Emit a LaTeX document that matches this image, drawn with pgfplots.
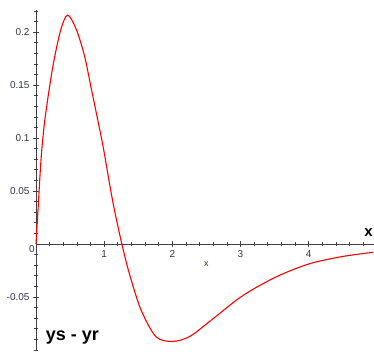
\documentclass[border=0pt]{standalone}
\usepackage{fontspec}
\setmainfont{Liberation Sans}
\usepackage{pgfplots}
\pgfplotsset{compat=1.18}
\definecolor{axc}{HTML}{404040}
\definecolor{lab}{HTML}{33334D}
\definecolor{olive}{HTML}{333300}
\begin{document}
\begin{tikzpicture}
\useasboundingbox (-36pt,0pt) rectangle (338pt,351pt);
\begin{axis}[
 at={(0pt,0pt)}, anchor=south west,
 scale only axis, width=338pt, height=341pt,
 xmin=0, xmax=4.96, ymin=-0.101, ymax=0.2208,
 axis lines=middle, axis line style={axc, line width=0.6pt, -},
 xtick={1,2,3,4}, xticklabels={1,2,3,4},
 ytick={-0.05,0.05,0.1,0.15,0.2},
 yticklabels={-0.05,0.05,0.1,0.15,0.2},
 minor xtick={0.2,0.4,0.6,0.8,1.2,1.4,1.6,1.8,2.2,2.4,2.6,2.8,3.2,3.4,3.6,3.8,4.2,4.4,4.6,4.8},
 minor ytick={-0.1,-0.09,-0.08,-0.07,-0.06,-0.04,-0.03,-0.02,-0.01,0.01,0.02,0.03,0.04,0.06,0.07,0.08,0.09,0.11,0.12,0.13,0.14,0.16,0.17,0.18,0.19,0.21,0.22},
 tick align=center, major tick length=6pt, minor tick length=4pt,
 tick style={axc, line width=0.6pt},
 ticklabel style={font=\fontsize{10}{12}\selectfont, text=lab},
 /pgf/number format/assume math mode=true,
 clip=false,
]
\addplot[red, line width=1.1pt, smooth, tension=0.5] coordinates {
(0,0) (0.024,0.026) (0.073,0.079) (0.122,0.113) (0.196,0.147) (0.269,0.175)
(0.367,0.203) (0.465,0.216) (0.588,0.203) (0.71,0.178) (0.81,0.147)
(0.916,0.114) (0.994,0.0887) (1.078,0.0573) (1.151,0.032) (1.26,0.0)
(1.37,-0.028) (1.54,-0.062) (1.76,-0.0875) (2.0,-0.092) (2.25,-0.0875)
(2.55,-0.073) (2.94,-0.053) (3.14,-0.0445) (3.33,-0.0375) (3.6,-0.0288)
(4.02,-0.0185) (4.5,-0.0118) (4.95,-0.0078)
};
\node[anchor=north east, text=lab, font=\fontsize{10}{12}\selectfont, inner sep=1pt] at (axis cs:0,0) {0};
\node[font=\fontsize{15}{17}\bfseries\selectfont] at (axis cs:4.88,0.0104) {x};
\node[font=\fontsize{9}{10}\selectfont, text=olive] at (axis cs:2.5,-0.019) {x};
\node[font=\fontsize{18}{20}\bfseries\selectfont] at (axis cs:0.535,-0.0887) {ys - yr};
\end{axis}
\end{tikzpicture}
\end{document}
